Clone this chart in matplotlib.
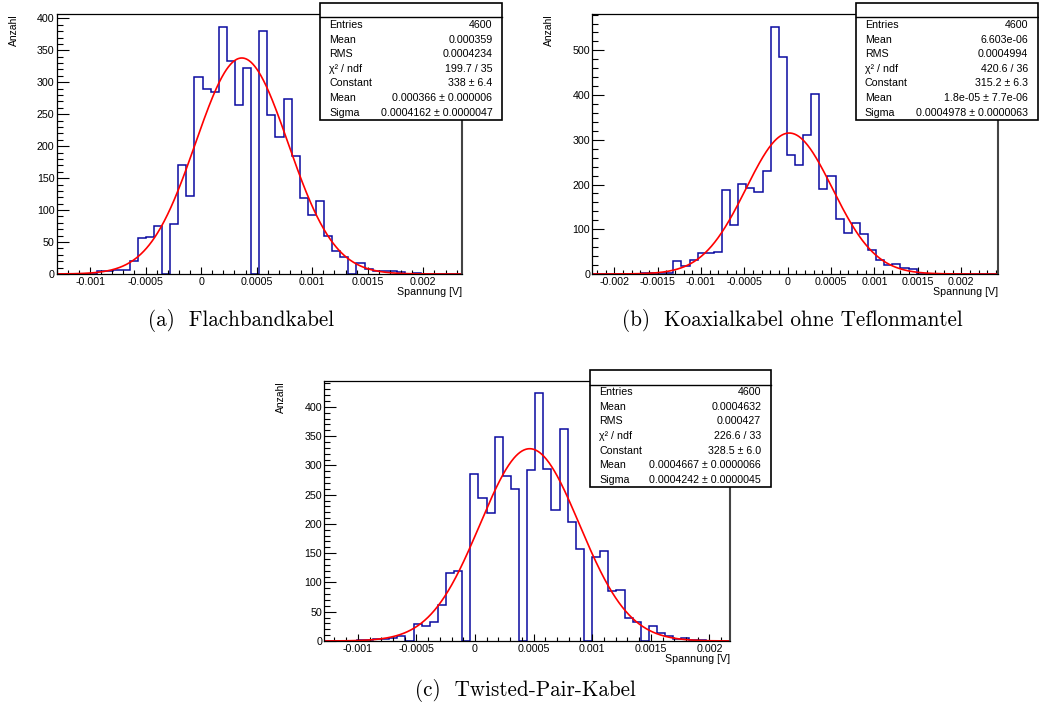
import numpy as np
import matplotlib
matplotlib.use('Agg')
from matplotlib import pyplot as plt
from matplotlib.ticker import MultipleLocator, FuncFormatter
from matplotlib.patches import Rectangle
from matplotlib.lines import Line2D

plt.rcParams['font.family'] = ['Liberation Sans', 'DejaVu Sans']
plt.rcParams['axes.unicode_minus'] = False

# histogram contents (50 bins each)
a_counts = [0, 0, 0, 0, 0, 4, 4, 7, 7, 20,
            57, 58, 75, 0, 78, 171, 122, 308, 290, 285,
            387, 333, 265, 322, 0, 381, 249, 214, 274, 184,
            119, 93, 114, 59, 36, 27, 0, 17, 8, 5,
            5, 5, 3, 0, 2, 0, 0, 0, 0, 0]
b_counts = [0, 0, 0, 0, 0, 0, 2, 2, 3, 3,
            29, 19, 32, 47, 48, 49, 187, 109, 201, 193,
            183, 230, 553, 486, 267, 244, 311, 403, 191, 220,
            123, 92, 114, 90, 53, 31, 20, 23, 14, 11,
            1, 1, 0, 0, 0, 0, 0, 0, 0, 0]
c_counts = [0, 0, 0, 0, 1, 2, 3, 3, 5, 8,
            0, 29, 25, 32, 62, 116, 120, 0, 286, 244,
            219, 348, 282, 260, 0, 292, 423, 293, 224, 362,
            203, 158, 0, 144, 153, 85, 87, 40, 33, 0,
            26, 14, 9, 4, 5, 2, 1, 0, 0, 0]

# histogram ranges [V]
a_range = (-0.0013, 0.002345)
b_range = (-0.0022524, 0.0024207)
c_range = (-0.001286, 0.002176)

# gaus fit parameters (Constant, Mean, Sigma)
a_fit = (338.0, 0.000366, 0.0004162)
b_fit = (315.2, 1.8e-05, 0.0004978)
c_fit = (328.5, 0.0004667, 0.0004242)

stat_labels = ['Entries', 'Mean', 'RMS', 'χ² / ndf', 'Constant', 'Mean', 'Sigma']
a_stats = ['4600', '0.000359', '0.0004234', '199.7 / 35', '338 ± 6.4',
           '0.000366 ± 0.000006', '0.0004162 ± 0.0000047']
b_stats = ['4600', '6.603e-06', '0.0004994', '420.6 / 36', '315.2 ± 6.3',
           '1.8e-05 ± 7.7e-06', '0.0004978 ± 0.0000063']
c_stats = ['4600', '0.0004632', '0.000427', '226.6 / 33', '328.5 ± 6.0',
           '0.0004667 ± 0.0000066', '0.0004242 ± 0.0000045']

captions = ['(a)  Flachbandkabel', '(b)  Koaxialkabel ohne Teflonmantel', '(c)  Twisted-Pair-Kabel']

W, H = 1039, 704
fig = plt.figure(figsize=(W / 100, H / 100), dpi=100)

def px_axes(left, top, right, bottom):
    return fig.add_axes([left / W, 1 - bottom / H, (right - left) / W, (bottom - top) / H])

def draw_hist(ax, counts, xr, fit, ymaj, ymin):
    counts = np.array(counts)
    edges = np.linspace(xr[0], xr[1], len(counts) + 1)
    ax.stairs(counts, edges, color='#0a0aa0', lw=1.1)
    C, m, s = fit
    x = np.linspace(xr[0], xr[1], 600)
    ax.plot(x, C * np.exp(-0.5 * ((x - m) / s) ** 2), color='red', lw=1.2)
    ax.set_xlim(xr)
    ax.set_ylim(0, 1.05 * counts.max())
    ax.xaxis.set_major_locator(MultipleLocator(0.0005))
    ax.xaxis.set_minor_locator(MultipleLocator(0.0001))
    ax.yaxis.set_major_locator(MultipleLocator(ymaj))
    ax.yaxis.set_minor_locator(MultipleLocator(ymin))
    ax.xaxis.set_major_formatter(FuncFormatter(lambda v, p: '0' if abs(v) < 1e-12 else '%g' % v))
    ax.tick_params(which='both', direction='in', width=0.8, labelsize=7.7, top=False, right=False)
    ax.tick_params(axis='x', which='major', length=5.3, pad=2)
    ax.tick_params(axis='x', which='minor', length=2.9)
    ax.tick_params(axis='y', which='major', length=8.4, pad=1.5)
    ax.tick_params(axis='y', which='minor', length=4.1)
    for sp in ax.spines.values():
        sp.set_linewidth(0.9)
    ax.spines['right'].set_linewidth(1.5)
    ax.spines['right'].set_color('#444444')
    ax.text(-0.106, 1.0, 'Anzahl', rotation=90, ha='center', va='top',
            fontsize=7.5, transform=ax.transAxes)
    ax.text(1.0, -0.069, 'Spannung [V]', ha='right', va='center',
            fontsize=7.7, transform=ax.transAxes)

def stats_box(left, top, right, bottom, values):
    fig.patches.append(Rectangle((left / W, 1 - bottom / H), (right - left) / W, (bottom - top) / H,
                                 transform=fig.transFigure, facecolor='white',
                                 edgecolor='black', lw=1.2, zorder=5))
    fig.lines.append(Line2D([left / W, right / W], [1 - (top + 14.6) / H] * 2,
                            transform=fig.transFigure, color='black', lw=1.0, zorder=6))
    for i, (lab, val) in enumerate(zip(stat_labels, values)):
        y = 1 - (top + 22.3 + i * 14.6) / H
        fig.text((left + 9) / W, y, lab, ha='left', va='center', fontsize=7.7, zorder=7)
        fig.text((right - 9.5) / W, y, val, ha='right', va='center', fontsize=7.7, zorder=7)

ax_a = px_axes(56.7, 14.3, 461.7, 274)
draw_hist(ax_a, a_counts, a_range, a_fit, 50, 10)
ax_b = px_axes(592.3, 14.3, 997.7, 274)
draw_hist(ax_b, b_counts, b_range, b_fit, 100, 20)
ax_c = px_axes(324.3, 381, 730, 641)
draw_hist(ax_c, c_counts, c_range, c_fit, 50, 10)

stats_box(320, 2.7, 502, 120, a_stats)
stats_box(855.7, 2.7, 1037.5, 120, b_stats)
stats_box(590, 370, 770.7, 487.3, c_stats)

for (cx, cy), cap in zip([(241, 320), (792, 320), (525, 690)], captions):
    fig.text(cx / W, 1 - cy / H, cap, ha='center', va='center', fontsize=15.2, family='cmr10')

fig.savefig('out.png', dpi=100)
